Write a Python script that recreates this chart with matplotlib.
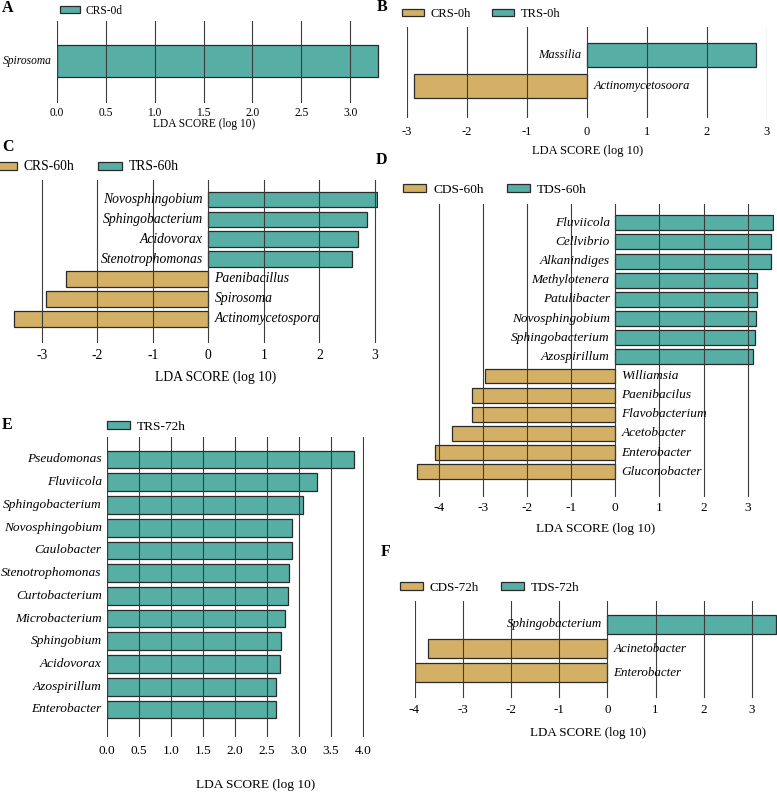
import numpy as np
import matplotlib.pyplot as plt
from matplotlib.patches import Patch

plt.rcParams["font.family"] = ["Liberation Serif", "DejaVu Serif"]
plt.rcParams["axes.unicode_minus"] = False

TEAL = "#56AEA5"
GOLD = "#D3B065"
EDGE = "#2a2a2a"
GRID = "#3c3c3c"

W, H = 777, 793

# %% data (LDA scores)
a_taxa = ["Spirosoma"]
a_lda = [3.28]

b_taxa = ["Massilia", "Actinomycetosoora"]
b_lda = [2.82, -2.88]

c_taxa = ["Novosphingobium", "Sphingobacterium", "Acidovorax", "Stenotrophomonas",
          "Paenibacillus", "Spirosoma", "Actinomycetospora"]
c_lda = [3.04, 2.86, 2.69, 2.59, -2.56, -2.92, -3.50]

d_taxa = ["Fluviicola", "Cellvibrio", "Alkanindiges", "Methylotenera", "Patulibacter",
          "Novosphingobium", "Sphingobacterium", "Azospirillum", "Williamsia",
          "Paenibacilus", "Flavobacterium", "Acetobacter", "Enterobacter", "Gluconobacter"]
d_lda = [3.57, 3.53, 3.52, 3.20, 3.20, 3.19, 3.17, 3.13,
         -2.95, -3.25, -3.25, -3.71, -4.09, -4.50]

e_taxa = ["Pseudomonas", "Fluviicola", "Sphingobacterium", "Novosphingobium",
          "Caulobacter", "Stenotrophomonas", "Curtobacterium", "Microbacterium",
          "Sphingobium", "Acidovorax", "Azospirillum", "Enterobacter"]
e_lda = [3.87, 3.28, 3.06, 2.90, 2.89, 2.85, 2.83, 2.79, 2.72, 2.71, 2.64, 2.64]

f_taxa = ["Sphingobacterium", "Acinetobacter", "Enterobacter"]
f_lda = [3.50, -3.73, -4.00]

groups = {
    "A": ["CRS-0d"],
    "B": ["CRS-0h", "TRS-0h"],
    "C": ["CRS-60h", "TRS-60h"],
    "D": ["CDS-60h", "TDS-60h"],
    "E": ["TRS-72h"],
    "F": ["CDS-72h", "TDS-72h"],
}

fig = plt.figure(figsize=(W / 100, H / 100), dpi=100)


def px_axes(x0, y0, x1, y1):
    return fig.add_axes([x0 / W, 1 - y1 / H, (x1 - x0) / W, (y1 - y0) / H])


def lda_panel(letter, taxa, lda, box, xlim, ylim, ticks, fmt, fs, tickpad,
              letter_xy, leg_xy, xlab_xy, colspace=1.75):
    ax = px_axes(*box)
    vals = np.asarray(lda)
    ypos = np.arange(len(vals))[::-1]
    cols = [TEAL if v > 0 else GOLD for v in vals]
    ax.barh(ypos, vals, height=0.78, color=cols, edgecolor=EDGE, linewidth=0.9, zorder=1)
    for y, v, name in zip(ypos, vals, taxa):
        if v > 0:
            ax.annotate(name, (0, y), xytext=(-4, 0), textcoords="offset points",
                        ha="right", va="center", style="italic", fontsize=fs, zorder=4)
        else:
            ax.annotate(name, (0, y), xytext=(4.5, 0), textcoords="offset points",
                        ha="left", va="center", style="italic", fontsize=fs, zorder=4)
    ax.set_xlim(*xlim)
    ax.set_ylim(*ylim)
    ax.set_xticks(ticks)
    ax.set_xticklabels([fmt.format(t) for t in ticks], fontsize=fs)
    ax.set_yticks([])
    ax.tick_params(axis="x", length=0, pad=tickpad)
    ax.grid(axis="x", color=GRID, linewidth=0.8)
    ax.set_axisbelow(False)
    for s in ax.spines.values():
        s.set_visible(False)
    ax.patch.set_alpha(0)

    names = groups[letter]
    colors = [TEAL] if len(names) == 1 else [GOLD, TEAL]
    handles = [Patch(facecolor=c, edgecolor=EDGE, linewidth=0.9) for c in colors]
    ax.legend(handles, names, loc="center left", bbox_to_anchor=(leg_xy[0] / W, 1 - leg_xy[1] / H),
              bbox_transform=fig.transFigure, ncol=len(names), frameon=False, fontsize=fs,
              handlelength=1.75, handleheight=0.55, handletextpad=0.5, columnspacing=colspace,
              borderpad=0, borderaxespad=0)

    fig.text(letter_xy[0] / W, 1 - letter_xy[1] / H, letter, fontsize=11.5,
             fontweight="bold", ha="left", va="center")
    fig.text(xlab_xy[0] / W, 1 - xlab_xy[1] / H, "LDA SCORE (log 10)", fontsize=fs,
             ha="center", va="center")
    return ax


lda_panel("A", a_taxa, a_lda, (57, 21, 379.5, 103), (0, 3.3), (-1.05, 1.0),
          np.arange(0, 3.01, 0.5), "{:.1f}", 8.3, 3, (2, 8.5), (60, 10.5), (204, 124))

lda_panel("B", b_taxa, b_lda, (407, 27, 767, 118), (-3, 3), (-1.05, 1.93),
          np.arange(-3, 4), "{:d}", 9, 5.5, (377, 7), (402, 14), (588, 151))

lda_panel("C", c_taxa, c_lda, (11.3, 180, 377.6, 343), (-3.55, 3.05), (-1.22, 6.98),
          np.arange(-3, 4), "{:d}", 9.8, 4.5, (2, 147), (-7, 167), (216, 377))

lda_panel("D", d_taxa, d_lda, (414, 204, 774.2, 497), (-4.56, 3.6), (-1.32, 13.98),
          np.arange(-4, 4), "{:d}", 9.6, 3.5, (376, 160), (403, 190), (596, 529))

lda_panel("E", e_taxa, e_lda, (107.3, 437, 364, 737), (0, 4.02), (-1.21, 11.99),
          np.arange(0, 4.01, 0.5), "{:.1f}", 9.6, 5.5, (2, 425), (107, 427), (256, 785))

lda_panel("F", f_taxa, f_lda, (414.5, 601, 777, 698), (-4.0, 3.52), (-1.04, 2.97),
          np.arange(-4, 4), "{:d}", 9.4, 4.5, (381, 552), (400, 588), (588, 733))

fig.savefig("out.png", dpi=100)
